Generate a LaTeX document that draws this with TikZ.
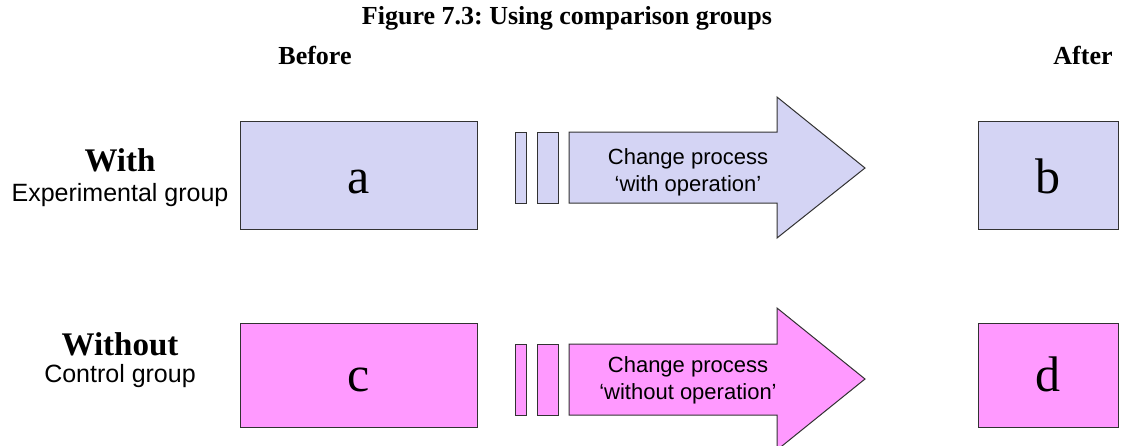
\documentclass[tikz,border=0pt]{standalone}
\usepackage{fontspec}
\setmainfont{Liberation Serif}
\newfontfamily\arialf{Liberation Sans}
\definecolor{lavc}{RGB}{212,212,244}
\definecolor{pinkc}{RGB}{255,153,255}
\definecolor{linec}{RGB}{50,50,50}
\frenchspacing
\begin{document}
\begin{tikzpicture}[x=1pt,y=-1pt,
  shp/.style={draw=linec, line width=1pt, line join=miter},
  lav/.style={fill=lavc}, pnk/.style={fill=pinkc},
  box/.style={shp, inner sep=0pt},
  letter/.style={font=\fontsize{50}{50}\selectfont, inner sep=0pt, anchor=base},
  head/.style={font=\fontsize{26}{26}\selectfont\bfseries, inner sep=0pt},
  rowname/.style={font=\fontsize{33}{33}\selectfont\bfseries, inner sep=0pt},
  rowsub/.style={font=\arialf\fontsize{25}{25}\selectfont, inner sep=0pt},
  proc/.style={font=\arialf\fontsize{22}{27}\selectfont, align=center, inner sep=0pt}]
\useasboundingbox (0,0) rectangle (1133,445);
% title and column heads
\node[head] (title) at (567,18) {Figure 7.3: Using comparison groups};
\node[head] (before) at (315,55) {Before};
\node[head] (after) at (1083,55) {After};
% row labels
\node[rowname] (with) at (120,160) {With};
\node[rowsub] (exp) at (120,195) {Experimental group};
\node[rowname] (without) at (120,344) {Without};
\node[rowsub] (ctrl) at (120,376) {Control group};
% upper row
\node[box,lav,minimum width=237,minimum height=108] (a) at (358.5,175) {};
\node[box,lav,minimum width=140,minimum height=108] (b) at (1048,175) {};
\node[letter] (la) at (358.5,193) {a};
\node[letter] (lb) at (1048,193) {b};
\draw[shp,lav] (515,132) rectangle (526,203);
\draw[shp,lav] (537,132) rectangle (558,203);
\draw[shp,lav] (569,132) -- (777,132) -- (777,97) -- (865,168) -- (777,238) -- (777,203) -- (569,203) -- cycle;
\node[proc] (p1) at (688,172) {Change process\\‘with operation’};
% lower row
\node[box,pnk,minimum width=237,minimum height=104] (c) at (358.5,375) {};
\node[box,pnk,minimum width=140,minimum height=104] (d) at (1048,375) {};
\node[letter] (lc) at (358.5,391) {c};
\node[letter] (ld) at (1048,391) {d};
\draw[shp,pnk] (515,344) rectangle (526,415);
\draw[shp,pnk] (537,344) rectangle (558,415);
\draw[shp,pnk] (569,344) -- (777,344) -- (777,308) -- (865,379) -- (777,450) -- (777,415) -- (569,415) -- cycle;
\node[proc] (p2) at (688,380) {Change process\\‘without operation’};
\end{tikzpicture}
\end{document}
